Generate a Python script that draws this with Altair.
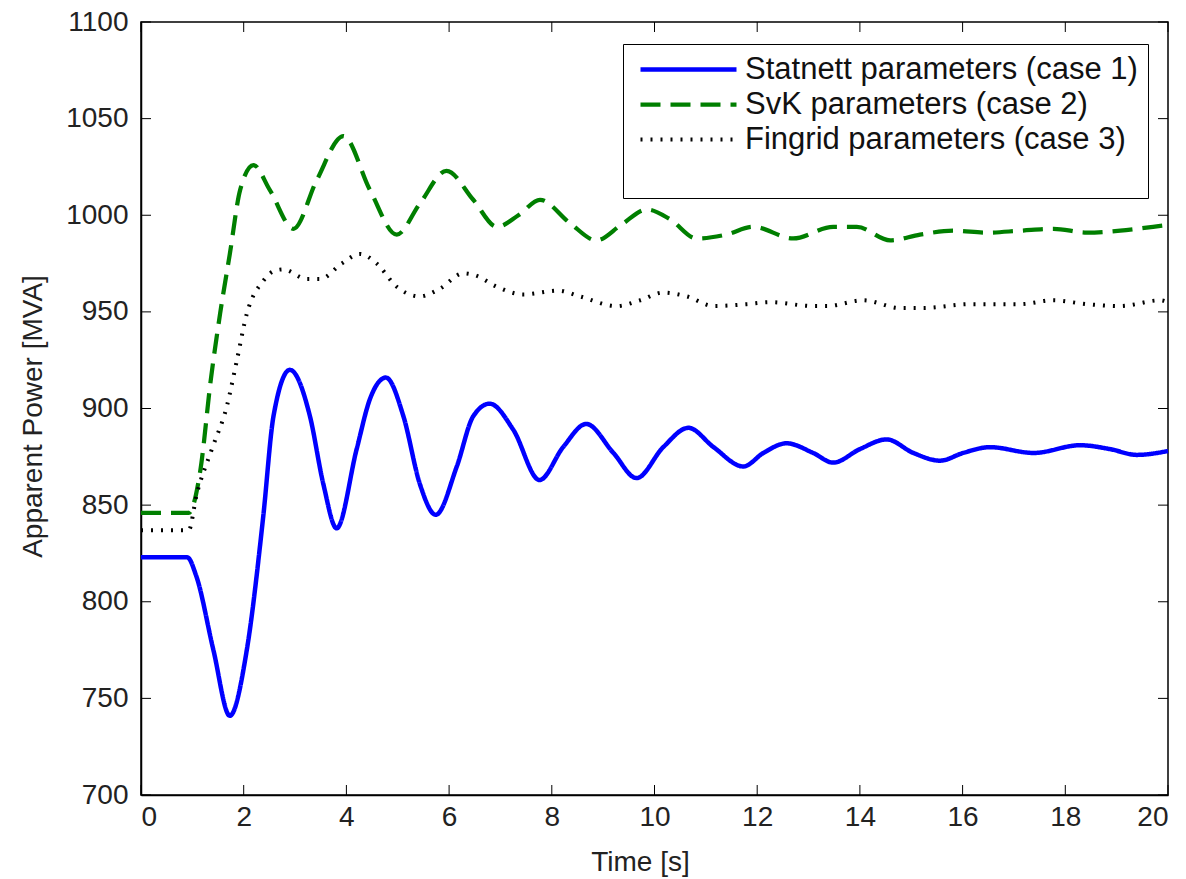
import altair as alt
import pandas as pd

# ---- data ----
statnett_t = [0, 0.9, 1.08, 1.41, 1.73, 2.06, 2.38, 2.58, 2.90, 3.29, 3.55, 3.81, 4.2, 4.46, 4.77,
              5.11, 5.43, 5.74, 6.15, 6.47, 6.79, 7.25, 7.76, 8.22, 8.67, 9.2, 9.65, 10.17, 10.66,
              11.15, 11.73, 12.12, 12.57, 13.09, 13.48, 14.0, 14.52, 15.04, 15.56, 16.01, 16.53,
              17.38, 18.29, 18.87, 19.39, 20.0]
statnett_v = [823, 823, 813, 775, 741, 775, 844, 896, 920, 896, 861, 838, 879, 905, 916,
              896, 861, 845, 870, 896, 902.5, 889, 863, 880, 892, 877, 864, 880, 890,
              880, 870, 877, 882, 877, 872, 879, 884, 877, 873, 877, 880,
              877, 881, 879, 876, 878]

svk_t = [0, 0.93, 1.15, 1.36, 1.54, 1.73, 1.93, 2.19, 2.51, 2.97, 3.42, 3.94, 4.46, 4.98,
         5.43, 5.95, 6.47, 6.93, 7.35, 7.77, 8.35, 8.87, 9.35, 9.85, 10.3, 10.82, 11.4, 11.92,
         12.7, 13.48, 13.94, 14.59, 15.17, 15.82, 16.47, 17.12, 17.77, 18.42, 19.07, 19.71, 20.0]
svk_v = [846, 846, 867, 915, 949, 980, 1013, 1026, 1013, 993, 1018, 1041, 1013, 990,
         1006, 1023, 1008, 994, 1000, 1008, 996, 987, 995, 1003, 998, 988, 990, 994,
         988, 994, 994, 987, 990, 992, 991, 992, 993, 991, 992, 994, 995]

fingrid_t = [0, 0.93, 1.08, 1.38, 1.67, 1.86, 2.06, 2.38, 2.58, 2.77, 3.23, 3.49, 3.91, 4.26,
             4.59, 4.98, 5.43, 5.82, 6.28, 6.5, 6.93, 7.44, 8.13, 8.55, 9.26, 9.72, 10.17,
             10.63, 11.15, 11.8, 12.25, 13.09, 13.35, 14.07, 14.78, 15.23, 16.14, 17.12,
             17.76, 18.42, 19.07, 19.85, 20.0]
fingrid_v = [837, 837, 855, 879, 901, 924, 949, 966, 971, 972, 967, 967, 975, 980,
             975, 963, 958, 962, 970, 969, 963, 959, 961, 958, 953, 956, 960,
             958, 953, 954, 955, 953, 953, 956, 952, 952, 954, 954,
             956, 954, 953, 956, 955]

series_names = ["Statnett parameters (case 1)", "SvK parameters (case 2)", "Fingrid parameters (case 3)"]
series_colors = ["#0000ff", "#007f00", "#000000"]
series_dash = [[1, 0], [20, 10], [2, 8]]
series_width = [4.5, 4, 2.5]

x_ticks = [0, 2, 4, 6, 8, 10, 12, 14, 16, 18, 20]
y_ticks = [700, 750, 800, 850, 900, 950, 1000, 1050, 1100]

# ---- build table ----
rows = []
for name, ts, vs in zip(series_names, [statnett_t, svk_t, fingrid_t],
                        [statnett_v, svk_v, fingrid_v]):
    for i, (t, v) in enumerate(zip(ts, vs)):
        rows.append({"series": name, "t": t, "v": v, "order": i})
df = pd.DataFrame(rows)

W, H = 1027, 773
TICK = 10
FONT = "Liberation Sans, Arial, sans-serif"

xscale = alt.Scale(domain=[0, 20], nice=False)
yscale = alt.Scale(domain=[700, 1100], nice=False)

legend_opts = dict(title=" ", titleOrient="bottom", titleFontSize=20, titlePadding=13,
                   orient="none", legendX=482, legendY=22,
                   symbolType="M-4,0H4", symbolSize=576, symbolStrokeWidth=3,
                   symbolOffset=40,
                   labelFontSize=31, labelFont=FONT, labelColor="#111",
                   labelOffset=41, rowPadding=3, padding=10,
                   strokeColor="#000", fillColor="#fff", labelLimit=600)

lines = alt.Chart(df).mark_line(interpolate="monotone", strokeCap="butt").encode(
    x=alt.X("t:Q", scale=xscale,
            axis=alt.Axis(title="Time [s]", values=x_ticks, ticks=False, grid=False,
                          labelPadding=8, titleX=499, titleY=75, titleBaseline="alphabetic")),
    y=alt.Y("v:Q", scale=yscale,
            axis=alt.Axis(title="Apparent Power [MVA]", values=y_ticks, format="d",
                          ticks=False, grid=False, labelPadding=13,
                          titleX=-100, titleY=394, titleBaseline="alphabetic")),
    color=alt.Color("series:N", scale=alt.Scale(domain=series_names, range=series_colors),
                    legend=alt.Legend(**legend_opts)),
    strokeDash=alt.StrokeDash("series:N", scale=alt.Scale(domain=series_names, range=series_dash),
                              legend=alt.Legend(**legend_opts)),
    strokeWidth=alt.StrokeWidth("series:N",
                                scale=alt.Scale(domain=series_names, range=series_width),
                                legend=None),
    order="order:Q",
)

xt = pd.DataFrame({"t": x_ticks})
yt = pd.DataFrame({"v": y_ticks})

tick_bottom = alt.Chart(xt).mark_rule(color="black", strokeWidth=1).encode(
    x=alt.X("t:Q", scale=xscale), y=alt.value(H - TICK), y2=alt.value(H))
tick_top = alt.Chart(xt).mark_rule(color="black", strokeWidth=1).encode(
    x=alt.X("t:Q", scale=xscale), y=alt.value(0), y2=alt.value(TICK))
tick_left = alt.Chart(yt).mark_rule(color="black", strokeWidth=1).encode(
    y=alt.Y("v:Q", scale=yscale), x=alt.value(0), x2=alt.value(TICK))
tick_right = alt.Chart(yt).mark_rule(color="black", strokeWidth=1).encode(
    y=alt.Y("v:Q", scale=yscale), x=alt.value(W - TICK), x2=alt.value(W))

chart = alt.layer(tick_bottom, tick_top, tick_left, tick_right, lines).properties(
    width=W, height=H,
    autosize=alt.AutoSizeParams(type="none"),
    padding={"left": 141, "top": 22, "right": 18, "bottom": 84},
    background="white",
).configure_view(stroke="black", strokeWidth=1.5).configure_axis(
    domainColor="black", domainWidth=1.5,
    labelFont=FONT, labelFontSize=28, labelColor="#222",
    titleFont=FONT, titleFontSize=28, titleFontWeight="normal", titleColor="#222",
)

chart.save("out.html", embed_options={"renderer": "svg", "actions": False})
